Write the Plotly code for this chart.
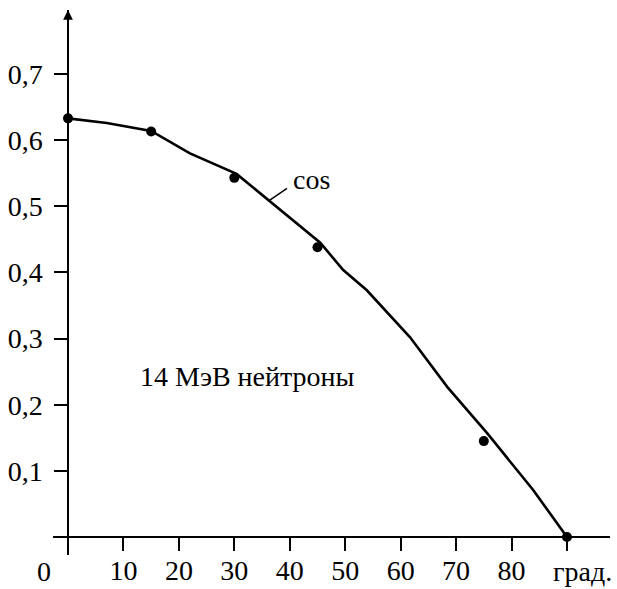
import plotly.graph_objects as go

# Data
curve_x = [0, 7, 15, 22, 30.4, 38, 45.5, 49.6, 53.9, 61.7, 68.4, 75.6, 83.9, 90]
curve_y = [0.633, 0.626, 0.614, 0.580, 0.549, 0.496, 0.445, 0.404, 0.373, 0.302, 0.227, 0.157, 0.071, 0.0]
pts_x = [0, 15, 30, 45, 75, 90]
pts_y = [0.633, 0.613, 0.543, 0.438, 0.145, 0.0]

x_tickvals = [10, 20, 30, 40, 50, 60, 70, 80, 90]
x_ticktext = ["10", "20", "30", "40", "50", "60", "70", "80", ""]
y_tickvals = [0.1, 0.2, 0.3, 0.4, 0.5, 0.6, 0.7]
y_ticktext = ["0,1", "0,2", "0,3", "0,4", "0,5", "0,6", "0,7"]

leader_x = [36.4, 39.5]
leader_y = [0.5095, 0.527]

FONT = "Liberation Serif, Times New Roman, DejaVu Serif, serif"
FS = 28

xr = [-2.706, 97.76]
yr = [-0.0272, 0.7968]
xpos = (0 - xr[0]) / (xr[1] - xr[0])   # paper x of data x=0
ypos = (0 - yr[0]) / (yr[1] - yr[0])   # paper y of data y=0

fig = go.Figure()
fig.add_trace(go.Scatter(x=curve_x, y=curve_y, mode="lines",
                         line=dict(color="black", width=2.6), hoverinfo="skip"))
fig.add_trace(go.Scatter(x=pts_x, y=pts_y, mode="markers",
                         marker=dict(color="black", size=10), hoverinfo="skip"))
fig.add_trace(go.Scatter(x=leader_x, y=leader_y, mode="lines",
                         line=dict(color="black", width=1.5), hoverinfo="skip"))

fig.update_layout(
    width=617, height=589,
    margin=dict(l=53, r=7, t=10, b=34, autoexpand=False),
    plot_bgcolor="white", paper_bgcolor="white",
    showlegend=False,
    font=dict(family=FONT, size=FS, color="black"),
    xaxis=dict(range=xr, anchor="free", position=ypos, showline=True, automargin=False,
               linecolor="black", linewidth=1.5, showgrid=False, zeroline=False,
               ticks="outside", ticklen=13, tickwidth=1.5, tickcolor="black",
               tickvals=x_tickvals, ticktext=x_ticktext, ticklabelstandoff=-4,
               tickfont=dict(family=FONT, size=FS, color="black")),
    yaxis=dict(range=yr, anchor="free", position=xpos, showline=True, automargin=False,
               linecolor="black", linewidth=1.5, showgrid=False, zeroline=False,
               ticks="outside", ticklen=13, tickwidth=1.5, tickcolor="black",
               tickvals=y_tickvals, ticktext=y_ticktext, ticklabelstandoff=6,
               tickfont=dict(family=FONT, size=FS, color="black")),
)

# axis arrows
fig.add_annotation(x=0, y=yr[1], xref="x", yref="y", showarrow=True, text="",
                   ax=0, ay=30, arrowhead=2, arrowsize=1.3, arrowwidth=1.5, arrowcolor="black")
fig.add_annotation(x=xr[1] + 0.4, y=0, xref="x", yref="y", showarrow=True, text="",
                   ax=-30, ay=0, arrowhead=2, arrowsize=1.3, arrowwidth=1.5, arrowcolor="black")

# extra labels
fig.add_annotation(x=0, y=0, xref="x", yref="y", text="0", showarrow=False,
                   xshift=-24, yshift=-34, font=dict(family=FONT, size=FS))
fig.add_annotation(x=90, y=0, xref="x", yref="y", text="град.", showarrow=False,
                   xanchor="left", xshift=-16, yshift=-34, font=dict(family=FONT, size=FS))
fig.add_annotation(x=44.0, y=0.54, xref="x", yref="y", text="cos", showarrow=False,
                   font=dict(family=FONT, size=FS))
fig.add_annotation(x=32.3, y=0.242, xref="x", yref="y", text="14 МэВ нейтроны",
                   showarrow=False, font=dict(family=FONT, size=FS))

fig.write_html("out.html")
